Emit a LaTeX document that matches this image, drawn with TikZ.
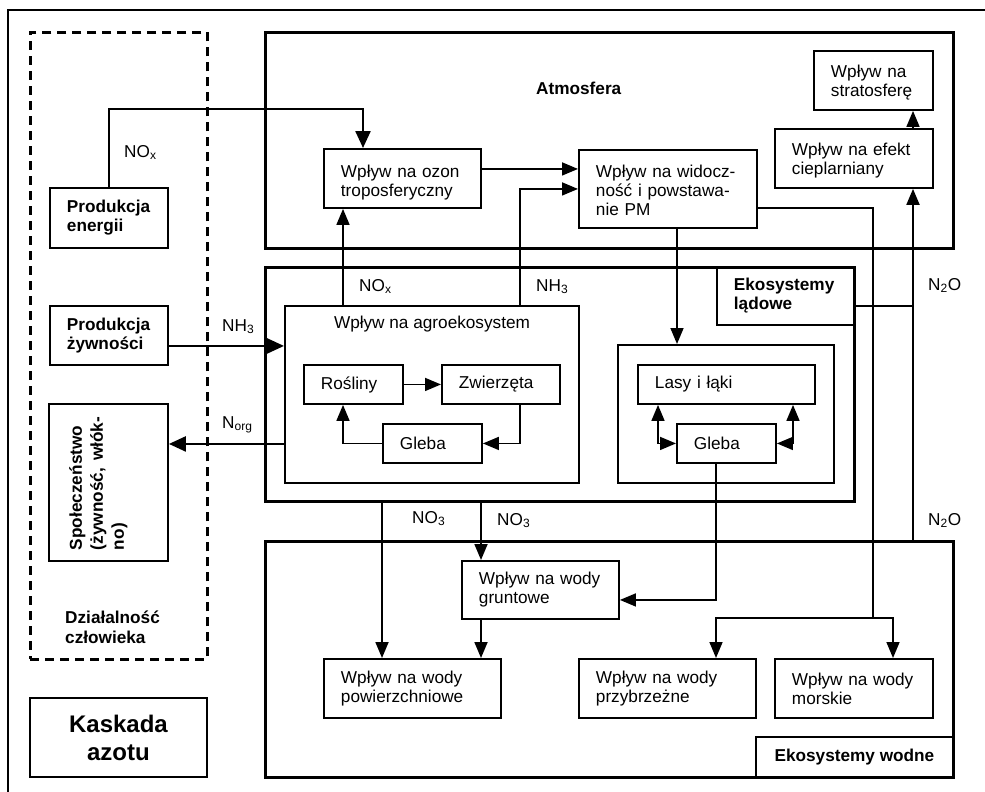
\documentclass[tikz,border=0pt]{standalone}
\usepackage{fontspec}
\setmainfont{Liberation Sans}
\usetikzlibrary{arrows.meta}
\newcommand\fsz{\fontsize{17.2pt}{19pt}\selectfont}
\newcommand\up[1]{\rule{0pt}{#1pt}}
\begin{document}
\begin{tikzpicture}[x=1pt,y=-1pt,
  every node/.style={font=\fsz},
  bf/.style={font=\fsz\bfseries},
  bx/.style={draw, line width=1.9pt, anchor=north west, inner xsep=17pt, inner ysep=0pt, align=left},
  region/.style={draw, line width=3.3pt, anchor=north west, inner sep=0pt},
  lbl/.style={anchor=base west, inner sep=0pt},
  arr/.style={line width=1.6pt, -{Triangle[length=16pt,width=13pt]}},
  darr/.style={line width=1.6pt, {Triangle[length=16pt,width=13pt]}-{Triangle[length=16pt,width=13pt]}},
  arrb/.style={line width=2.4pt, -{Triangle[length=17pt,width=15pt]}},
  ln/.style={line width=1.6pt},
]
\useasboundingbox (0,0) rectangle (985,792);
\clip (0,0) rectangle (985,792);
\fill[white] (0,0) rectangle (985,792);
% outer frame (only top and left edges inside the picture)
\draw[line width=2pt] (8,800) -- (8,10) -- (995,10);

% human activity
\node[draw, line width=2.6pt, dash pattern=on 9pt off 6pt, anchor=north west, inner sep=0pt,
      minimum width=177pt, minimum height=627pt] (human) at (29,31) {};
\node[bx,bf,minimum height=60pt,text width=84pt] (energii) at (49,187) {Produkcja\\energii};
\node[bx,bf,minimum height=59pt,text width=84pt] (zywn) at (49,305) {Produkcja\\żywności};
\node[bx,minimum width=119pt,minimum height=157pt] (spol) at (48,403) {};
\node[rotate=90,anchor=north,inner sep=0pt,align=left,
      font=\fontsize{17.2pt}{21pt}\selectfont\bfseries] (spoltxt) at (69,483.5)
      {Społeczeństwo\\\hbox to 133pt{(żywność,\hfill włók-}\\no)};
\node[anchor=north west,inner sep=0pt,align=left,
      font=\fontsize{17.2pt}{20pt}\selectfont\bfseries] (dzial) at (65,610.5) {Działalność\\człowieka};
\node[draw,line width=1.9pt,anchor=north west,minimum width=177pt,minimum height=79pt,inner sep=0pt,
      align=center,font=\fontsize{24pt}{28pt}\selectfont\bfseries] (kaskada) at (29,697) {Kaskada\\azotu};

% atmosphere
\node[region,minimum width=688pt,minimum height=216pt] (atm) at (264,31) {};
\node[lbl,bf] (atmlab) at (536,94) {Atmosfera};
\node[bx,minimum height=59pt,text width=123pt] (ozon) at (323,148) {\up{21}Wpływ na ozon\\troposferyczny};
\node[bx,minimum height=78pt,text width=144pt] (widocz) at (578,149) {\up{15.5}Wpływ na widocz-\\ność i powstawa-\\nie PM};
\node[bx,minimum height=59pt,text width=124pt] (efekt) at (774,128) {\up{17.5}Wpływ na efekt\\cieplarniany};
\node[bx,minimum height=59pt,text width=85pt] (strato) at (813,50) {\up{17}Wpływ na\\stratosferę};

% land ecosystems
\node[region,minimum width=589pt,minimum height=234pt] (lad) at (264,266) {};
\node[bx,bf,minimum height=58pt,text width=103pt] (ladlab) at (716,266) {Ekosystemy\\lądowe};
\node[bx,minimum width=294pt,minimum height=177pt] (agro) at (284,305) {};
\node[anchor=base,inner sep=0pt] (agrolab) at (432,328) {Wpływ na agroekosystem};
\node[bx,minimum height=39pt,text width=65pt] (rosl) at (303,364) {Rośliny};
\node[bx,minimum height=39pt,text width=84pt] (zwie) at (441,364) {Zwierzęta};
\node[bx,minimum height=39pt,text width=65pt] (glebaA) at (382,423) {Gleba};
\node[bx,minimum width=216pt,minimum height=138pt] (forest) at (617,344) {};
\node[bx,minimum height=39pt,text width=143pt] (lasy) at (637,364) {Lasy i łąki};
\node[bx,minimum height=39pt,text width=65pt] (glebaL) at (676,423) {Gleba};

% water ecosystems
\node[region,minimum width=688pt,minimum height=236pt] (water) at (264,540) {};
\node[draw,line width=1.9pt,anchor=north west,minimum width=197pt,minimum height=40pt,inner sep=0pt,bf] (wodlab) at (755,736) {Ekosystemy wodne};
\node[bx,minimum height=58pt,text width=123pt] (grunt) at (461,560) {Wpływ na wody\\gruntowe};
\node[bx,minimum height=59pt,text width=143pt] (powierz) at (323,658) {Wpływ na wody\\powierzchniowe};
\node[bx,minimum height=59pt,text width=143pt] (przyb) at (578,658) {Wpływ na wody\\przybrzeżne};
\node[bx,minimum height=59pt,text width=124pt] (morsk) at (774,658) {Wpływ na wody\\morskie};

% connectors
\draw[arrb] (energii.north) -- ++(0,-78) -| ([xshift=40pt]ozon.north west);
\draw[arr] ([yshift=9.5pt]ozon.east) -- ([yshift=9.5pt]ozon.east -| widocz.west);
\draw[arr] ([xshift=59pt]agro.north west) -- ([xshift=59pt]agro.north west |- ozon.south);
\draw[arr] ([xshift=236pt]agro.north west) |- (widocz.west);
\draw[arr] ([xshift=99pt]widocz.south west) -- ([xshift=99pt]widocz.south west |- forest.north);
\coordinate (split) at (873,618);
\draw[ln] ([yshift=-19pt]widocz.east) -| (split);
\draw[arr] (split) -| ([xshift=138pt]przyb.north west);
\draw[arr] (split) -| ([xshift=119pt]morsk.north west);
\draw[arr] ([xshift=139pt]efekt.north west) -- ([xshift=139pt]efekt.north west |- strato.south);
\coordinate (n2o) at ([xshift=649pt]water.north west);
\draw[arr,line width=2pt] (n2o) -- (n2o |- efekt.south);
\draw[line width=2pt] ([yshift=-10pt]ladlab.east) -- ([yshift=-10pt]ladlab.east -| n2o);
\draw[arrb] ([yshift=-10.5pt]zywn.east) -- ([yshift=-10.5pt]zywn.east -| agro.west);
\draw[arrb] ([yshift=-49.5pt]agro.west) -- ([yshift=-49.5pt]agro.west -| spol.east);
\draw[arr] (rosl.east) -- (zwie.west);
\draw[arr] ([xshift=79pt]zwie.south west) |- (glebaA.east);
\draw[arr] (glebaA.west) -| ([xshift=40pt]rosl.south west);
\draw[darr] ([xshift=21pt]lasy.south west) |- (glebaL.west);
\draw[darr] ([xshift=156pt]lasy.south west) |- (glebaL.east);
\draw[arr] ([xshift=40pt]glebaL.south west) |- ([yshift=-10pt]grunt.east);
\draw[arr,line width=1.8pt] ([xshift=118pt]lad.south west) -- ([xshift=118pt]lad.south west |- powierz.north);
\draw[arr,line width=1.8pt] ([xshift=217pt]lad.south west) -- ([xshift=217pt]lad.south west |- grunt.north);
\draw[arr,line width=1.8pt] ([xshift=20pt]grunt.south west) -- ([xshift=20pt]grunt.south west |- powierz.north);

% flow labels
\node[lbl] (lnox1) at (124,157) {NO\textsubscript{x}};
\node[lbl] (lnox2) at (359,291) {NO\textsubscript{x}};
\node[lbl] (lnh3b) at (536,291) {NH\textsubscript{3}};
\node[lbl] (lnh3a) at (222,331) {NH\textsubscript{3}};
\node[lbl] (lnorg) at (222,428) {N\textsubscript{org}};
\node[lbl] (ln2oa) at (928,290) {N\textsubscript{2}O};
\node[lbl] (ln2ob) at (928,525) {N\textsubscript{2}O};
\node[lbl] (lno3a) at (412,523) {NO\textsubscript{3}};
\node[lbl] (lno3b) at (497,525) {NO\textsubscript{3}};
\end{tikzpicture}
\end{document}
